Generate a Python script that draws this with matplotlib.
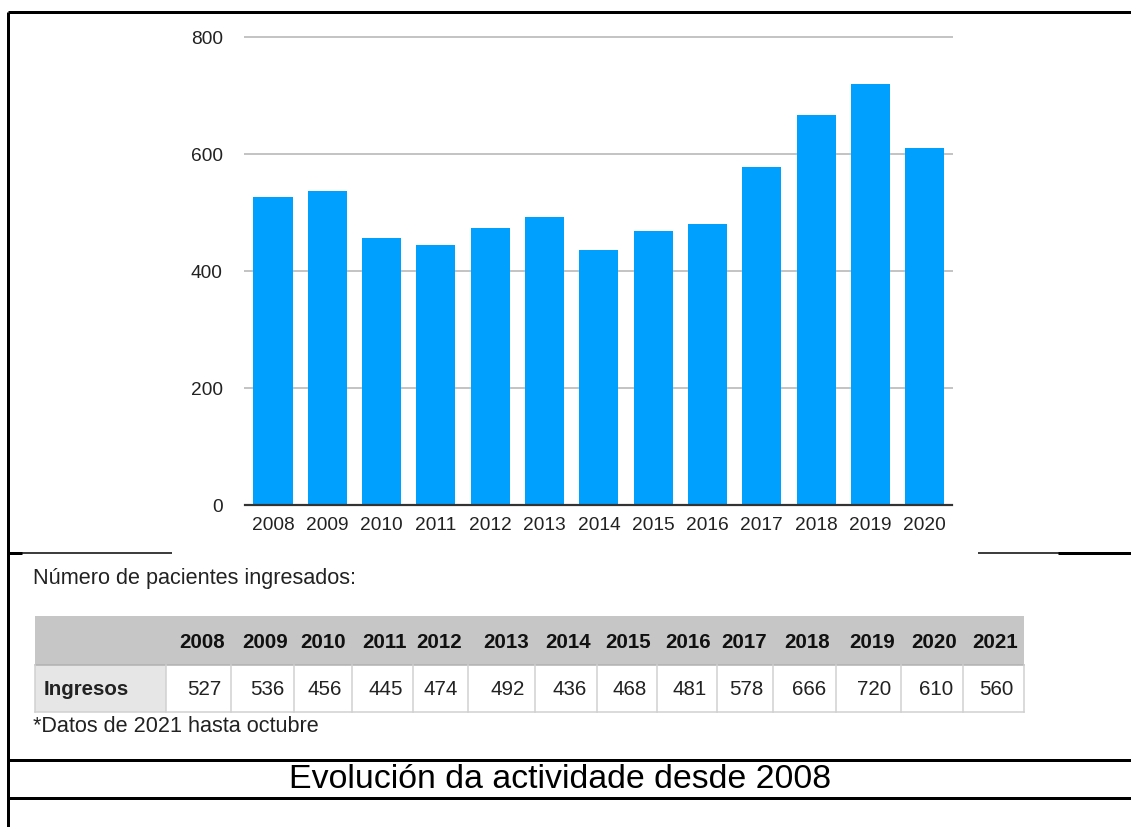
import matplotlib
matplotlib.use("Agg")
import matplotlib.pyplot as plt
from matplotlib.patches import Rectangle

plt.rcParams['font.family'] = ['Liberation Sans', 'DejaVu Sans']

# ---- data ----
years = [2008, 2009, 2010, 2011, 2012, 2013, 2014, 2015, 2016, 2017, 2018, 2019, 2020, 2021]
ingresos = [527, 536, 456, 445, 474, 492, 436, 468, 481, 578, 666, 720, 610, 560]
chart_years = years[:13]
chart_values = ingresos[:13]
yticks = [0, 200, 400, 600, 800]
row_label = "Ingresos"
subtitle = "Número de pacientes ingresados:"
footnote = "*Datos de 2021 hasta octubre"
caption = "Evolución da actividade desde 2008"

W, H = 1131, 828
DPI = 100
fig = plt.figure(figsize=(W / DPI, H / DPI), dpi=DPI)

def px(v):
    return v * 72.0 / DPI

# ---- overlay for frame, table, texts (pixel coords) ----
ov = fig.add_axes([0, 0, 1, 1])
ov.set_xlim(0, W)
ov.set_ylim(H, 0)
ov.axis('off')

# ---- bar chart ----
x0, x1 = 245, 952
ytop, ybase = 38, 506
ax = fig.add_axes([x0 / W, (H - ybase) / H, (x1 - x0) / W, (ybase - ytop) / H])
pos = list(range(len(chart_years)))
ax.bar(pos, chart_values, width=0.72, color='#00A0FF', zorder=3)
ax.set_xlim(-0.515, len(pos) - 1 + 0.5)
ax.set_ylim(0, 800)
ax.set_yticks(yticks)
ax.set_yticklabels([str(t) for t in yticks])
ax.set_xticks(pos)
ax.set_xticklabels([str(y) for y in chart_years])
for s in ['top', 'right', 'left']:
    ax.spines[s].set_visible(False)
ax.spines['bottom'].set_color('#333333')
ax.spines['bottom'].set_linewidth(px(2.2))
ax.spines['bottom'].set_zorder(4)
ax.tick_params(axis='both', length=0, labelsize=13.8, colors='#222222')
ax.tick_params(axis='y', pad=16)
ax.tick_params(axis='x', pad=8)
for t in yticks[1:]:
    ax.axhline(t, color='#c4c4c4', lw=px(2), zorder=1, clip_on=False)
ax.set_facecolor('none')

# ---- frame lines ----
lk = dict(color='black', solid_capstyle='butt')
ov.plot([8, W], [13, 13], lw=px(3), **lk)
ov.plot([8, 8], [13, H], lw=px(3), **lk)
ov.plot([8, 172], [554, 554], lw=px(1.5), **lk)
ov.plot([8, 22], [554, 554], lw=px(3), **lk)
ov.plot([978, W], [554, 554], lw=px(1.5), **lk)
ov.plot([1058, W], [554, 554], lw=px(3), **lk)
ov.plot([8, W], [761, 761], lw=px(3), **lk)
ov.plot([8, W], [799, 799], lw=px(3), **lk)

# ---- texts ----
ov.text(33, 579, subtitle, fontsize=15.6, va='center', ha='left', color='#222222')
ov.text(33, 727, footnote, fontsize=15.6, va='center', ha='left', color='#222222')
ov.text(560, 780, caption, fontsize=24.4, va='center', ha='center', color='black')

# ---- table ----
bounds = [35, 166, 231, 294, 352, 413, 468, 535, 597, 657, 717, 773, 836, 901, 963, 1024]
t_top, t_mid, t_bot = 617, 666, 713
ov.add_patch(Rectangle((bounds[0], t_top), bounds[-1] - bounds[0], t_mid - t_top,
                       facecolor='#c6c6c6', edgecolor='none', zorder=1))
ov.add_patch(Rectangle((bounds[0], t_mid), bounds[1] - bounds[0], t_bot - t_mid,
                       facecolor='#e6e6e6', edgecolor='none', zorder=1))
ov.plot([bounds[0], bounds[-1]], [t_bot, t_bot], color='#d0d0d0', lw=px(1.5), zorder=2)
ov.plot([bounds[0], bounds[-1]], [t_mid, t_mid], color='#b0b0b0', lw=px(1.5), zorder=2)
for b in bounds:
    ov.plot([b, b], [t_mid, t_bot], color='#d0d0d0', lw=px(1.5), zorder=2)
ov.text(44, (t_mid + t_bot) / 2, row_label, fontsize=14.8, fontweight='bold',
        ha='left', va='center', color='#222222', zorder=3)
for i, (yr, v) in enumerate(zip(years, ingresos)):
    right = bounds[i + 2]
    ov.text(right - 6, (t_top + t_mid) / 2 + 1, str(yr), fontsize=14.8, fontweight='bold',
            ha='right', va='center', color='#111111', zorder=3)
    ov.text(right - 10, (t_mid + t_bot) / 2, str(v), fontsize=14.8,
            ha='right', va='center', color='#222222', zorder=3)

fig.savefig('out.png', dpi=DPI, facecolor='white')
